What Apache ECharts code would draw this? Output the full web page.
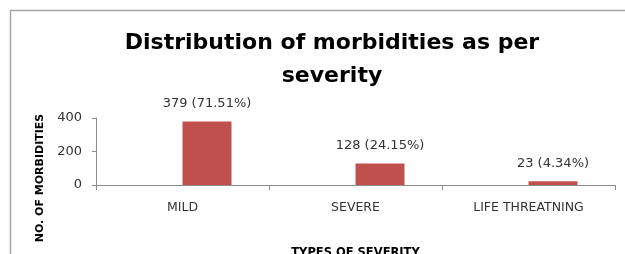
<!DOCTYPE html>
<html>
<head>
<meta charset="utf-8">
<script src="https://cdn.jsdelivr.net/npm/echarts@6/dist/echarts.min.js"></script>
<style>
html,body{margin:0;padding:0;background:#fff;}
#chart{width:625px;height:254px;}
</style>
</head>
<body>
<div id="chart"></div>
<script>
var categories = ["MILD", "SEVERE", "LIFE THREATNING"];
var counts = [379, 128, 23];
var percents = ["71.51%", "24.15%", "4.34%"];
var yTicks = [0, 200, 400];
var titleText = "Distribution of morbidities as per\nseverity";
var xAxisName = "TYPES OF SEVERITY";
var yAxisName = "NO. OF MORBIDITIES";

var chart = echarts.init(document.getElementById('chart'), null, {renderer: 'canvas'});
var axisColor = '#8c8c8c';
var option = {
  animation: false,
  backgroundColor: '#ffffff',
  title: {
    text: titleText,
    left: 327, top: 22, textAlign: 'center',
    textStyle: {fontFamily: 'DejaVu Sans', fontWeight: 'bold', fontSize: 22, color: '#000', lineHeight: 33}
  },
  grid: {left: 96, right: 10, top: 118, bottom: 69, containLabel: false, outerBoundsMode: 'none'},
  xAxis: {
    type: 'category',
    data: categories,
    name: xAxisName,
    nameLocation: 'middle',
    nameGap: 62,
    nameTextStyle: {fontFamily: 'DejaVu Sans', fontWeight: 'bold', fontSize: 11.5, color: '#000'},
    axisLine: {lineStyle: {color: axisColor, width: 1}},
    axisTick: {show: true, length: 5, lineStyle: {color: axisColor}},
    axisLabel: {fontFamily: 'DejaVu Sans', fontSize: 12.5, color: '#333', margin: 16}
  },
  yAxis: {
    type: 'value',
    min: yTicks[0], max: yTicks[yTicks.length - 1], interval: yTicks[1] - yTicks[0],
    axisLine: {show: true, lineStyle: {color: axisColor, width: 1}},
    axisTick: {show: true, length: 4, lineStyle: {color: axisColor}},
    splitLine: {show: false},
    axisLabel: {fontFamily: 'DejaVu Sans', fontSize: 13, color: '#333', margin: 14}
  },
  series: [
    {type: 'bar', data: counts.map(function(){return '-';}), barWidth: 49, barGap: '0%', silent: true},
    {
      type: 'bar', data: counts, barWidth: 49, barGap: '0%',
      itemStyle: {color: '#c0504d'},
      label: {
        show: true, position: 'top', distance: 11,
        fontFamily: 'DejaVu Sans', fontSize: 13, color: '#333',
        formatter: function(p){ return counts[p.dataIndex] + ' (' + percents[p.dataIndex] + ')'; }
      }
    }
  ],
  graphic: [
    {type: 'rect', shape: {x: 10.5, y: 10.5, width: 800, height: 400}, style: {fill: 'none', stroke: '#a6a6a6', lineWidth: 1.5}, silent: true, z: -1},
    {type: 'text', x: 40, y: 178, rotation: Math.PI/2, style: {text: yAxisName, fontFamily: 'DejaVu Sans', fontWeight: 'bold', fontSize: 11, fill: '#000', align: 'center', verticalAlign: 'middle'}}
  ]
};
chart.setOption(option);
</script>
</body>
</html>
